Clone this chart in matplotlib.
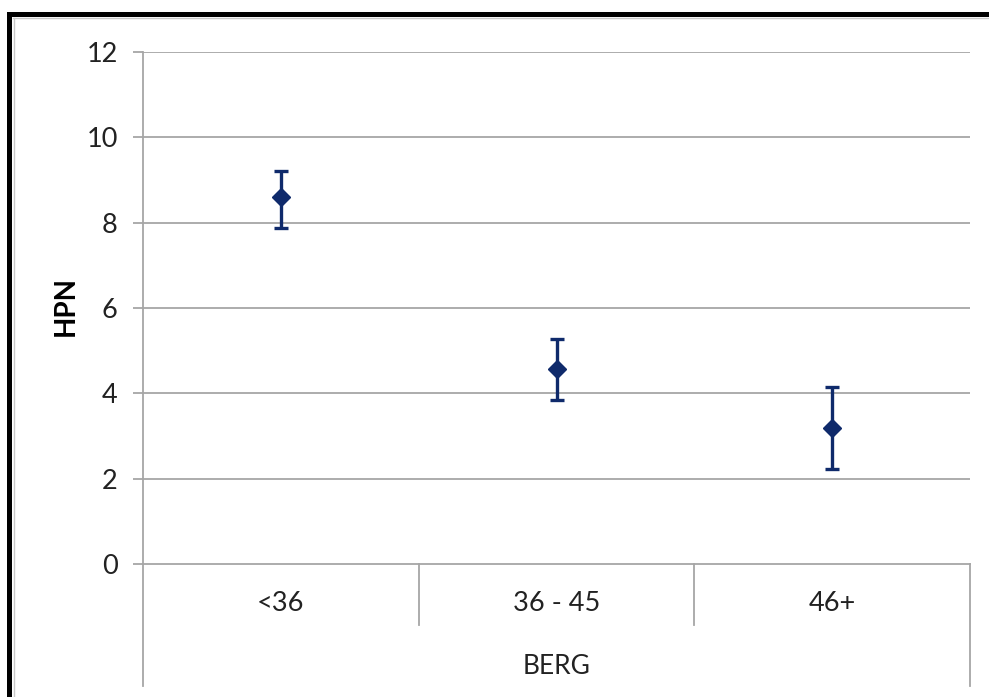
import matplotlib
matplotlib.use("Agg")
import matplotlib.pyplot as plt
import matplotlib.transforms as mtransforms
from matplotlib.patches import Rectangle
from matplotlib.lines import Line2D

# values
categories = ["<36", "36 - 45", "46+"]
means = [8.6, 4.57, 3.19]
upper = [9.21, 5.27, 4.15]
lower = [7.88, 3.84, 2.23]
y_ticks = [0, 2, 4, 6, 8, 10, 12]

W, H = 989, 697
plt.rcParams["font.family"] = ["Lato", "DejaVu Sans"]

fig = plt.figure(figsize=(W / 100, H / 100), dpi=100)
fig.patch.set_facecolor("white")

ax = fig.add_axes([143 / W, (H - 564) / H, (970 - 143) / W, (564 - 52) / H])

x = list(range(len(categories)))
yerr = [[m - lo for m, lo in zip(means, lower)], [up - m for m, up in zip(means, upper)]]
navy = "#0F2A6B"
ax.errorbar(x, means, yerr=yerr, fmt="D", color=navy, ms=9, elinewidth=2.4,
            capsize=4.8, capthick=2.4, zorder=3)

ax.set_xlim(-0.5, len(categories) - 0.5)
ax.set_ylim(0, 12)
ax.set_yticks(y_ticks)
ax.set_xticks([])
grid = "#A6A6A6"
for t in y_ticks[1:]:
    ax.axhline(t, color=grid, lw=1.3, zorder=1)

for s in ["top", "right"]:
    ax.spines[s].set_visible(False)
for s in ["left", "bottom"]:
    ax.spines[s].set_color(grid)
    ax.spines[s].set_linewidth(1.3)

ax.tick_params(axis="y", length=7.2, width=1.3, color=grid, labelsize=19.5,
               labelcolor="#222222", pad=11)

# category dividers under the axis
trans = mtransforms.blended_transform_factory(ax.transData, ax.transAxes)
n = len(categories)
for i in range(n + 1):
    xb = i - 0.5
    bottom = -0.238 if i in (0, n) else -0.119
    ax.add_line(Line2D([xb, xb], [0, bottom], transform=trans, color=grid,
                       lw=1.3, clip_on=False))
for i, c in enumerate(categories):
    ax.text(i, -0.078, c, transform=trans, ha="center", va="center",
            fontsize=19.5, color="#222222")

ax.text(0.5, -0.2, "BERG", transform=ax.transAxes, ha="center", va="center",
        fontsize=19, color="#222222")
fig.text(66 / W, (H - 306) / H, "HPN", rotation=90, ha="center", va="center",
         fontsize=20, fontweight="bold", color="black")

# black frame (top and left edges, cut off at right and bottom)
fig.add_artist(Rectangle((7 / W, (H - 17) / H), (W - 7) / W, 5 / H,
                         transform=fig.transFigure, color="black", lw=0))
fig.add_artist(Rectangle((7 / W, 0), 5 / W, (H - 12) / H,
                         transform=fig.transFigure, color="black", lw=0))
fig.add_artist(Line2D([13 / W, 1], [(H - 18) / H] * 2, transform=fig.transFigure,
                      color="#C8C8C8", lw=1))
fig.add_artist(Line2D([13.5 / W] * 2, [0, (H - 18) / H], transform=fig.transFigure,
                      color="#C8C8C8", lw=1))

fig.savefig("out.png", dpi=100)
